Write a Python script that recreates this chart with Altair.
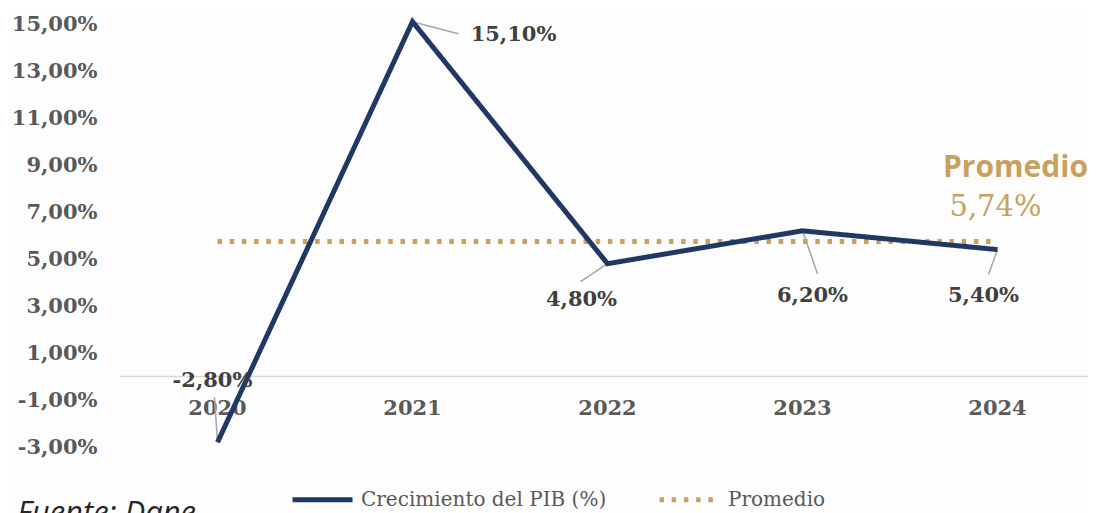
import altair as alt
import pandas as pd

# ---- data ----
years = ["2020", "2021", "2022", "2023", "2024"]
pib = [-2.8, 15.1, 4.8, 6.2, 5.4]
promedio = 5.74
series = ["Crecimiento del PIB (%)", "Promedio"]
y_ticks = [-3, -1, 1, 3, 5, 7, 9, 11, 13, 15]

NAVY = "#1f3864"
GOLD = "#c9a15e"
SERIF = "DejaVu Serif"

df = pd.DataFrame({"year": years, "pib": pib, "serie": series[0]})
avg_df = pd.DataFrame({"start": [years[0]], "end": [years[-1]], "val": [promedio], "serie": [series[1]]})
note_df = pd.DataFrame({"t": ["Fuente: Dane"]})

fmt = "replace(replace(format(datum.{f}, '.2f'), '.', ','), '\u2212', '-') + '%'"

x_scale = alt.Scale(domain=years, type="band", paddingInner=0, paddingOuter=0, range=[0, 975])
y_scale = alt.Scale(domain=[-3, 15], nice=False, zero=False)
color_scale = alt.Scale(domain=series, range=[NAVY, GOLD])
dash_scale = alt.Scale(domain=series, range=[[1, 0], [4.5, 7.7]])

legend = alt.Legend(
    title=None, orient="none", legendX=170, legendY=443, direction="horizontal",
    symbolType="stroke", symbolSize=3600, symbolStrokeWidth=5,
    labelFont=SERIF, labelFontSize=20, labelColor="#595959", labelOffset=6, labelLimit=0,
    columnPadding=42, padding=0,
)

x_enc = alt.X(
    "year:O", scale=x_scale, title=None,
    axis=alt.Axis(orient="bottom", offset=-70.5, domain=False, ticks=False, labelAngle=0,
                  labelAlign="center", labelBaseline="top",
                  labelFont=SERIF, labelFontWeight="bold", labelFontSize=21,
                  labelColor="#595959", labelPadding=21),
)
y_enc = alt.Y(
    "pib:Q", scale=y_scale, title=None,
    axis=alt.Axis(values=y_ticks, labelExpr=fmt.format(f="value"), domain=False, ticks=False,
                  labelFont=SERIF, labelFontWeight="bold", labelFontSize=21,
                  labelColor="#595959", labelPadding=23, gridColor="#d9d9d9", gridWidth=1.5),
)

zero_rule = alt.Chart(note_df).mark_rule(color="#d9d9d9", strokeWidth=1.5).encode(
    y=alt.datum(0, scale=y_scale), x=alt.value(0), x2=alt.value(975)
)

# leader lines (offset from each point to its label)
leader_off = {"2020": (-3, -45), "2021": (46, 12), "2022": (-27, 18), "2023": (15, 43), "2024": (-9, 25)}
label_off = {"2020": (-5, -61), "2021": (101, 13), "2022": (-26, 36), "2023": (10, 65), "2024": (-14, 46)}

base = alt.Chart(df)
leaders = []
labels = []
for yr in years:
    lx, ly = leader_off[yr]
    leaders.append(
        base.transform_filter(alt.datum.year == yr)
        .mark_rule(color="#a6a6a6", strokeWidth=1.5, x2Offset=lx, y2Offset=ly)
        .encode(x=alt.X("year:O", scale=x_scale), x2="year", y=alt.Y("pib:Q", scale=y_scale), y2="pib")
    )
    tx, ty = label_off[yr]
    labels.append(
        base.transform_filter(alt.datum.year == yr)
        .transform_calculate(lbl=fmt.format(f="pib"))
        .mark_text(font=SERIF, fontWeight="bold", fontSize=21, color="#404040",
                   dx=tx, dy=ty, align="center", baseline="middle")
        .encode(x=alt.X("year:O", scale=x_scale), y=alt.Y("pib:Q", scale=y_scale), text="lbl:N")
    )

line = base.mark_line(strokeWidth=5, strokeJoin="miter").encode(
    x=x_enc, y=y_enc,
    color=alt.Color("serie:N", scale=color_scale, legend=legend),
    strokeDash=alt.StrokeDash("serie:N", scale=dash_scale, legend=legend),
)

avg_rule = alt.Chart(avg_df).mark_rule(strokeWidth=5).encode(
    x=alt.X("start:O", scale=x_scale), x2="end",
    y=alt.Y("val:Q", scale=y_scale),
    color=alt.Color("serie:N", scale=color_scale, legend=legend),
    strokeDash=alt.StrokeDash("serie:N", scale=dash_scale, legend=legend),
)

avg_title = alt.Chart(avg_df).mark_text(
    text="Promedio", font="Open Sans", fontWeight="bold", fontSize=30, color=GOLD,
    dx=18, dy=-74, align="center", baseline="middle",
).encode(x=alt.X("end:O", scale=x_scale), y=alt.Y("val:Q", scale=y_scale))

avg_value = alt.Chart(avg_df).transform_calculate(lbl=fmt.format(f="val")).mark_text(
    font=SERIF, fontSize=29, color=GOLD, dx=-2, dy=-35, align="center", baseline="middle",
).encode(x=alt.X("end:O", scale=x_scale), y=alt.Y("val:Q", scale=y_scale), text="lbl:N")

note = alt.Chart(note_df).mark_text(
    font="Open Sans", fontStyle="italic", fontSize=31, color="#262626",
    align="left", baseline="alphabetic",
).encode(x=alt.value(-103), y=alt.value(499), text="t:N")

chart = alt.layer(
    zero_rule, *leaders, avg_rule, line, *labels, avg_title, avg_value, note
).properties(
    width=967, height=423,
    autosize=alt.AutoSizeParams(type="none"),
    padding={"left": 112, "top": 16, "right": 1, "bottom": 66},
    background="#fdfdfd",
).configure_view(stroke=None)

chart.save("out.html", embed_options={"renderer": "svg", "actions": False})
